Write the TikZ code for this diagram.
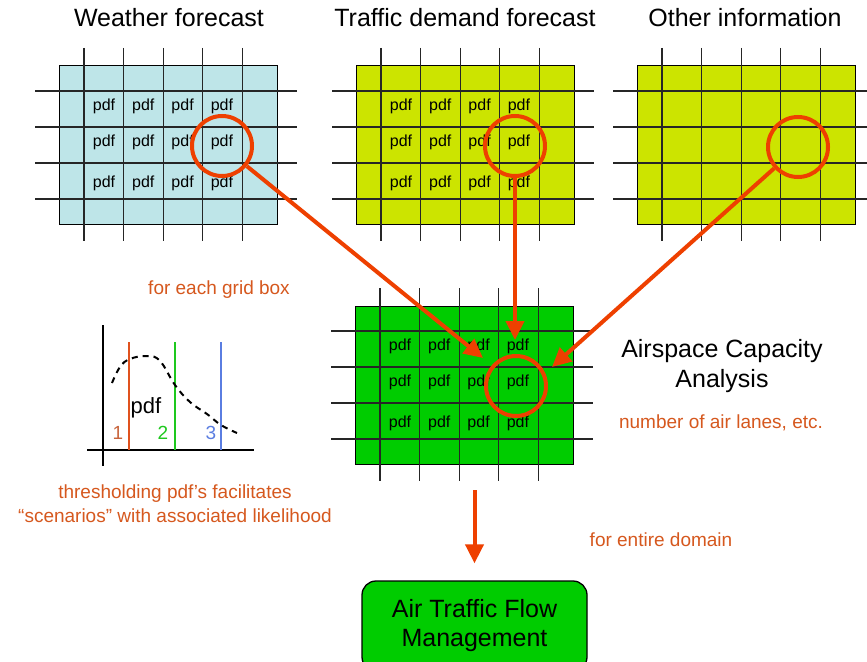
\documentclass[tikz,border=0pt]{standalone}
\usepackage{fontspec}
\setmainfont{Liberation Sans}
\usetikzlibrary{arrows.meta,calc}
\definecolor{arrc}{RGB}{238,64,0}
\definecolor{ortext}{RGB}{214,88,30}
\definecolor{wfill}{RGB}{190,229,232}
\definecolor{yfill}{RGB}{204,228,0}
\definecolor{gfill}{RGB}{0,204,0}
\definecolor{lone}{RGB}{224,82,30}
\definecolor{lonet}{RGB}{200,100,60}
\definecolor{ltwo}{RGB}{30,200,30}
\definecolor{lthree}{RGB}{90,125,225}
\newcommand\gridbox[4]{%
  \node[gridrect, fill=#4, anchor=north west] (#1) at (#2,#3) {};
  \foreach \k in {0,...,4} \draw[gridl] ({#2+25+39.6*\k},{#3-18}) -- ++(0,193);
  \foreach \j in {0,...,3} \draw[gridl] ({#2-24},{#3+25+36*\j}) -- ++(262,0);
}
\newcommand\pdfcells[3]{%
  \foreach \k in {0,...,3}
    \foreach \j/\dy in {0/40,1/76,2/117}
      \node[pdft] (#1-\k-\j) at ({#2+45+39.3*\k},{#3+\dy}) {pdf};
}
\begin{document}
\begin{tikzpicture}[x=1pt,y=-1pt,
  title/.style={font=\fontsize{25}{30}\selectfont, inner sep=0},
  note/.style={text=ortext, font=\fontsize{19}{24}\selectfont, inner sep=0, align=center},
  pdft/.style={font=\fontsize{16}{18}\selectfont, inner sep=0},
  gridrect/.style={draw=black, line width=1pt, minimum width=218pt, minimum height=158pt, outer sep=0, inner sep=0},
  gridl/.style={draw=black!85, line width=1.1pt},
  ring/.style={circle, draw=arrc, line width=4pt, minimum size=60pt, inner sep=0},
  arr/.style={draw=arrc, line width=4pt, -{Triangle[width=18pt,length=19pt]}},
  fbox/.style={draw=black, line width=1.3pt, fill=gfill, rounded corners=14pt, minimum width=225pt, minimum height=90pt, align=center, font=\fontsize{25}{29}\selectfont},
  axis/.style={line width=2.5pt, draw=black},
  thr/.style={line width=2.5pt},
  num/.style={font=\fontsize{19}{22}\selectfont, inner sep=0}
]
\useasboundingbox (0,0) rectangle (867,661);
\fill[white] (0,0) rectangle (867,661);

% titles
\node[title] (t1) at (169,18) {Weather forecast};
\node[title] (t2) at (465,18) {Traffic demand forecast};
\node[title] (t3) at (745,18) {Other information};

% grids
\gridbox{wg}{59}{66}{wfill}
\pdfcells{wp}{59}{66}
\gridbox{tg}{356}{66}{yfill}
\pdfcells{tp}{356}{66}
\gridbox{og}{637}{66}{yfill}
\gridbox{gg}{355}{306}{gfill}
\pdfcells{gp}{355}{306}

% rings
\node[ring] (wc) at (222,146) {};
\node[ring] (tc) at (515,146) {};
\node[ring] (oc) at (798,147) {};
\node[ring] (gc) at (516,386) {};

% arrows into the capacity grid
\coordinate (wt) at (483,358);
\coordinate (tt) at (515,340);
\coordinate (ot) at (552,367);
\draw[arr] (wc) -- (wt);
\draw[arr] (tc) -- (tt);
\draw[arr] (oc) -- (ot);

% labels
\node[note] (each) at (219,290) {for each grid box};
\node[title, align=center] (aca) at (722,366) {Airspace Capacity\\Analysis};
\node[note] (lanes) at (721,423) {number of air lanes, etc.};
\node[note] (thr) at (175,504) {thresholding pdf’s facilitates\\“scenarios” with associated likelihood};
\node[note] (dom) at (661,540) {for entire domain};

% bottom box
\node[fbox] (atfm) at (474.5,626) {Air Traffic Flow\\Management};
\coordinate (ga) at (474.5,490);
\draw[arr, shorten >=17pt] (ga) -- (ga |- atfm.north);

% pdf plot
\draw[axis] (103,325) -- (103,466);
\draw[axis] (87,450) -- (254,450);
\draw[thr, draw=lone] (129,342) -- (129,450);
\draw[thr, draw=ltwo] (175,342) -- (175,450);
\draw[thr, draw=lthree] (221,342) -- (221,450);
\draw[dash pattern=on 6pt off 5pt, line width=2pt] plot[smooth, tension=0.7] coordinates {(112,383) (120,367) (130,359) (147,356) (160,361) (175,385) (190,402) (207,414) (221,425) (237,433)};
\node[font=\fontsize{22}{24}\selectfont, inner sep=0] (ppdf) at (146,408) {pdf};
\node[num, text=lonet] (n1) at (118,433) {1};
\node[num, text=ltwo] (n2) at (163,433) {2};
\node[num, text=lthree] (n3) at (211,433) {3};
\end{tikzpicture}
\end{document}
